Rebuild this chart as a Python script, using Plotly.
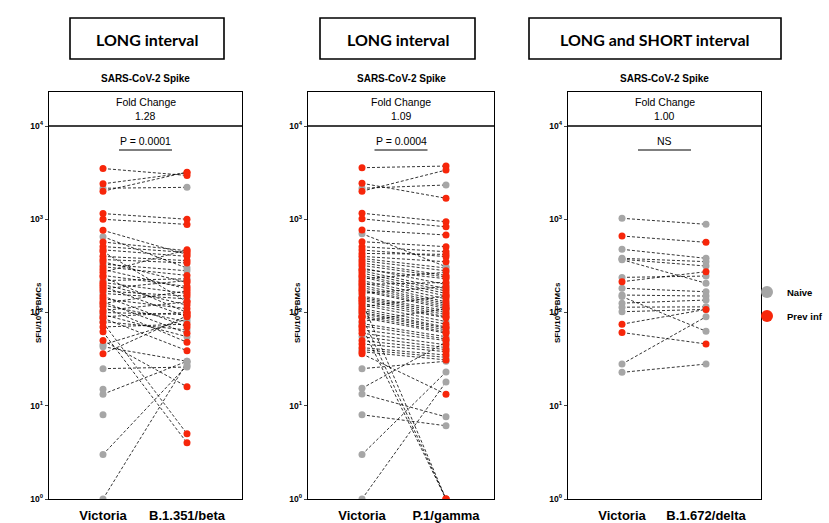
import plotly.graph_objects as go

# ---------------- data ----------------
panel_titles = ["LONG interval", "LONG interval", "LONG and SHORT interval"]
antigen = "SARS-CoV-2 Spike"
fold_changes = ["1.28", "1.09", "1.00"]
p_labels = ["P = 0.0001", "P = 0.0004", "NS"]
x_labels = [["Victoria", "B.1.351/beta"], ["Victoria", "P.1/gamma"], ["Victoria", "B.1.672/delta"]]
y_tickvals = [1, 10, 100, 1000, 10000]
y_ticktext = ["10<sup>0</sup>", "10<sup>1</sup>", "10<sup>2</sup>", "10<sup>3</sup>", "10<sup>4</sup>"]
legend_names = ["Naive", "Prev inf"]

# panel 1: Victoria vs B.1.351/beta  (group: N = naive, R = previously infected)
p1_group = ["R", "R", "N", "R", "R", "R", "R", "N", "R", "R", "R", "R", "R", "R", "R", "N",
            "R", "R", "R", "R", "R", "N", "R", "R", "R", "R", "R", "N", "R", "R", "R", "R",
            "N", "R", "R", "R", "N", "R", "R", "N", "R", "R", "R", "R", "N", "R", "N", "N",
            "N", "N", "N", "N", "N"]
p1_victoria = [3500, 2400, 2150, 2000, 1150, 1000, 760, 650, 570, 510, 470, 450, 400, 370, 350, 330,
               310, 290, 270, 250, 240, 220, 210, 200, 190, 180, 170, 160, 150, 140, 130, 125,
               120, 115, 105, 100, 95, 90, 87, 80, 78, 70, 62, 50, 45, 36, 43, 25,
               15, 13.3, 8, 3, 1]
p1_beta = [2950, 3150, 2200, 3200, 1000, 880, 420, 300, 460, 440, 400, 130, 360, 340, 210, 280,
           250, 180, 470, 190, 100, 230, 160, 120, 90, 220, 150, 140, 70, 110, 60, 170,
           80, 48, 130, 95, 55, 100, 39, 65, 5, 75, 4, 16, 85, 92, 30, 26,
           None, 30, None, 27, 29]

# panel 2: Victoria vs P.1/gamma
p2_group = ["R", "R", "R", "N", "R", "R", "R", "N", "R", "R", "R",
            "R", "R", "N", "R", "R", "R", "N", "R", "R", "R", "R", "R", "N", "R", "R", "R",
            "N", "R", "R", "R", "R", "N", "R", "R", "R", "R", "N", "R", "R", "R", "R", "N",
            "R", "R", "R", "N", "R", "R", "R", "N", "R", "R", "R", "N", "R",
            "N", "N", "N", "N", "N", "N", "R", "R", "R", "R"]
p2_victoria = [3570, 2000, 2430, 2150, 1160, 1010, 767, 700, 575, 508, 468,
               430, 400, 380, 360, 340, 320, 300, 290, 280, 265, 250, 240, 230, 220, 210, 200,
               195, 185, 175, 170, 160, 150, 145, 140, 135, 125, 120, 115, 110, 105, 100, 97,
               92, 88, 80, 76, 72, 65, 60, 55, 50, 46, 42, 40, 38,
               25, 15.4, 13.4, 8, 3, 1, 36, 130, 90, 70]
p2_gamma = [3720, 3370, 1680, 2330, 940, 830, 678, 310, 508, 449, 397,
            420, 350, 300, 280, 250, 240, 200, 230, 180, 170, 160, 150, 270, 140, 130, 210,
            125, 120, 115, 110, 190, 105, 100, 95, 90, 88, 80, 150, 75, 70, 68, 65,
            62, 60, 110, 55, 52, 50, 45, 42, 40, 38, 35, 33, 31,
            30, 48, 7.6, 6.1, 23, 18, 13.3, 1, 1, 1]

# panel 3: Victoria vs B.1.672/delta
p3_group = ["N", "R", "N", "N", "N", "N", "N", "R", "N", "N", "N", "N", "N", "N", "R", "R", "N", "N"]
p3_victoria = [1024, 661, 476, 381, 372, 368, 238, 214, 182, 154, 148, 126, 114, 102, 75, 61, 28, 22.8]
p3_delta = [883, 566, 381, 351, 315, 206, 246, 274, 167, 150, 63, 136, 115, 108, 108, 46, 90, 28]

panels = [(p1_group, p1_victoria, p1_beta),
          (p2_group, p2_victoria, p2_gamma),
          (p3_group, p3_victoria, p3_delta)]

# ---------------- styling ----------------
W, H = 829, 523
GRAY = "#a6a6a6"
RED = "#f7260a"
FONT = "Liberation Sans, Arial, sans-serif"
x_px = [(49, 242), (308, 494), (568, 761)]   # plot areas (pixels)
y_top_px, y_bot_px = 92, 499
decades = (y_bot_px - y_top_px) / 93.25      # log range of each panel
yfrac_1e4 = 4 / decades

fig = go.Figure()
layout = dict(width=W, height=H, margin=dict(l=0, r=0, t=0, b=0, autoexpand=False),
              paper_bgcolor="white", plot_bgcolor="white",
              font=dict(family=FONT, color="black"), showlegend=True)


def ann(**kw):
    kw.setdefault("showarrow", False)
    kw.setdefault("xanchor", "center")
    kw.setdefault("yanchor", "middle")
    return kw


annotations = []
shapes = []
for i, (grp, left, right) in enumerate(panels):
    n = i + 1
    xa = "x" if n == 1 else f"x{n}"
    ya = "y" if n == 1 else f"y{n}"
    # dashed connecting lines
    lx, ly = [], []
    for a, b in zip(left, right):
        if a is None or b is None:
            continue
        lx += [0, 1, None]
        ly += [a, b, None]
    fig.add_trace(go.Scatter(x=lx, y=ly, mode="lines", xaxis=xa, yaxis=ya,
                             line=dict(color="black", width=0.8, dash="3px,2px"),
                             showlegend=False, hoverinfo="skip"))
    for gcode, name, col, leg in [("N", legend_names[0], GRAY, "legend"),
                                  ("R", legend_names[1], RED, "legend2")]:
        px_, py_ = [], []
        for g, a, b in zip(grp, left, right):
            if g != gcode:
                continue
            if a is not None:
                px_.append(0); py_.append(a)
            if b is not None:
                px_.append(1); py_.append(b)
        fig.add_trace(go.Scatter(x=px_, y=py_, mode="markers", xaxis=xa, yaxis=ya,
                                 marker=dict(color=col, size=7, line=dict(width=0)),
                                 name=name, legend=leg, showlegend=(n == 1)))
    x0, x1 = x_px[i]
    unit = 84.0
    layout[f"xaxis{'' if n == 1 else n}"] = dict(
        domain=[x0 / W, x1 / W], range=[-54 / unit, (x1 - x0 - 54) / unit],
        anchor=ya, showgrid=False, zeroline=False, showline=True, mirror=True,
        linecolor="black", linewidth=1.3, ticks="",
        tickvals=[0, 1], ticktext=[f"<b>{t}</b>" for t in x_labels[i]],
        tickfont=dict(size=13, family=FONT, color="black"), ticklen=0,
        ticklabelstandoff=4)
    layout[f"yaxis{'' if n == 1 else n}"] = dict(
        domain=[1 - y_bot_px / H, 1 - y_top_px / H], type="log", range=[0, decades],
        anchor=xa, showgrid=False, zeroline=False, showline=True, mirror=True,
        linecolor="black", linewidth=1.3, ticks="outside", ticklen=3, tickwidth=1,
        tickvals=y_tickvals, ticktext=[f"<b>{t}</b>" for t in y_ticktext],
        tickfont=dict(size=8.5, family=FONT, color="black"))
    xd = f"{xa} domain"
    yd = f"{ya} domain"
    # fold-change separator line at 10^4
    shapes.append(dict(type="line", xref=xd, yref=yd, x0=0, x1=1, y0=yfrac_1e4, y1=yfrac_1e4,
                       line=dict(color="black", width=1.6)))
    annotations.append(ann(xref=xd, yref=yd, x=0.5, y=(499 - 102) / 407, text="Fold Change",
                           font=dict(size=10.5)))
    annotations.append(ann(xref=xd, yref=yd, x=0.5, y=(499 - 116) / 407, text=fold_changes[i],
                           font=dict(size=10.5)))
    # P value with underline (centred in pixels relative to the panel)
    w = x1 - x0
    annotations.append(ann(xref=xd, yref=yd, x=0.5, y=(499 - 141) / 407, text=p_labels[i],
                           font=dict(size=10.5)))
    shapes.append(dict(type="line", xref=xd, yref=yd, x0=0.5 - 26.5 / w, x1=0.5 + 26.5 / w,
                       y0=(499 - 150) / 407, y1=(499 - 150) / 407, line=dict(color="black", width=1.2)))
    # antigen label
    annotations.append(ann(xref=xd, yref="paper", x=0.5, y=1 - 78 / H, text=f"<b>{antigen}</b>",
                           font=dict(size=10)))
    # y-axis title
    annotations.append(ann(xref="paper", yref="paper", x=(x0 - 11) / W, y=1 - 313 / H,
                           text="<b>SFU/10<sup>6</sup> PBMCs</b>", textangle=-90,
                           font=dict(size=8)))

# header boxes
headers = [(70, 224), (320, 475), (529, 781)]
for (hx0, hx1), title in zip(headers, panel_titles):
    shapes.append(dict(type="rect", xref="paper", yref="paper", x0=hx0 / W, x1=hx1 / W,
                       y0=1 - 59 / H, y1=1 - 18 / H, line=dict(color="black", width=1.6)))
    annotations.append(ann(xref="paper", yref="paper", x=(hx0 + hx1) / 2 / W, y=1 - 39 / H,
                           text=f"<b>{title}</b>",
                           font=dict(size=16, family="Lato, Open Sans, sans-serif")))

layout["annotations"] = annotations
layout["shapes"] = shapes
layout["legend"] = dict(x=747 / W, y=1 - 292 / H, xanchor="left", yanchor="middle",
                        font=dict(size=9.5, family=FONT, weight="bold"), itemsizing="constant",
                        bgcolor="rgba(0,0,0,0)")
layout["legend2"] = dict(x=747 / W, y=1 - 316 / H, xanchor="left", yanchor="middle",
                         font=dict(size=9.5, family=FONT, weight="bold"), itemsizing="constant",
                         bgcolor="rgba(0,0,0,0)")
fig.update_layout(**layout)
fig.write_html("out.html", config={"displayModeBar": False},
               post_script="document.body.style.margin='0';document.body.style.overflow='hidden';")
